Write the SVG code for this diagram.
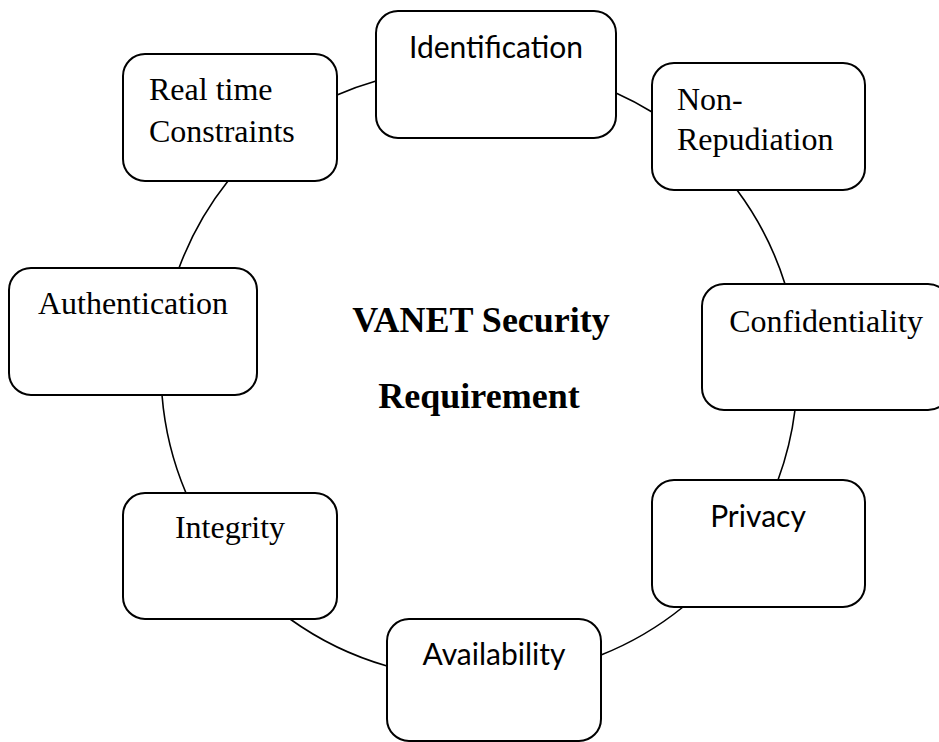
<svg xmlns="http://www.w3.org/2000/svg" width="939" height="742" viewBox="0 0 939 742">
  <style>
    .box { fill: #ffffff; stroke: #000000; stroke-width: 2; }
    .link { fill: none; stroke: #000000; stroke-width: 1.6; }
    .sans { font-family: "Lato", "Liberation Sans", sans-serif; font-size: 30px; fill: #000; }
    .serif { font-family: "Liberation Serif", "Times New Roman", serif; font-size: 32px; fill: #000; }
    .title { font-family: "Liberation Serif", "Times New Roman", serif; font-size: 36px; font-weight: bold; fill: #000; }
  </style>
  <rect width="939" height="742" fill="#ffffff"/>

  <!-- ring of arcs joining the requirement boxes -->
  <g id="connectors">
    <path class="link" d="M337,95 A315,315 0 0 1 376,81"/>
    <path class="link" d="M616,93 A315,315 0 0 1 652,112"/>
    <path class="link" d="M737,190 A315,315 0 0 1 785,284"/>
    <path class="link" d="M795,410 A315,315 0 0 1 778,480"/>
    <path class="link" d="M683,607 A315,315 0 0 1 601,655"/>
    <path class="link" d="M387,666 A315,315 0 0 1 290,619"/>
    <path class="link" d="M186,493 A315,315 0 0 1 162,395"/>
    <path class="link" d="M179,268 A315,315 0 0 1 228,181"/>
  </g>

  <g id="identification">
    <rect class="box" x="376" y="11" width="240" height="127" rx="22"/>
    <text class="sans" x="496" y="58" text-anchor="middle">Identification</text>
  </g>

  <g id="non-repudiation">
    <rect class="box" x="652" y="63" width="213" height="127" rx="22"/>
    <text class="serif" x="677" y="110">Non-</text>
    <text class="serif" x="677" y="150">Repudiation</text>
  </g>

  <g id="confidentiality">
    <rect class="box" x="702" y="284" width="248" height="126" rx="22"/>
    <text class="serif" x="826" y="332" text-anchor="middle">Confidentiality</text>
  </g>

  <g id="privacy">
    <rect class="box" x="652" y="480" width="213" height="127" rx="22"/>
    <text class="sans" x="758" y="527" text-anchor="middle">Privacy</text>
  </g>

  <g id="availability">
    <rect class="box" x="387" y="619" width="214" height="122" rx="22"/>
    <text class="sans" x="494" y="665" text-anchor="middle">Availability</text>
  </g>

  <g id="integrity">
    <rect class="box" x="123" y="493" width="214" height="126" rx="22"/>
    <text class="serif" x="230" y="538" text-anchor="middle">Integrity</text>
  </g>

  <g id="authentication">
    <rect class="box" x="9" y="268" width="248" height="127" rx="22"/>
    <text class="serif" x="133" y="314" text-anchor="middle">Authentication</text>
  </g>

  <g id="real-time-constraints">
    <rect class="box" x="123" y="54" width="214" height="127" rx="22"/>
    <text class="serif" x="149" y="100">Real time</text>
    <text class="serif" x="149" y="142">Constraints</text>
  </g>

  <g id="title">
    <text class="title" x="481" y="332" text-anchor="middle">VANET Security</text>
    <text class="title" x="479" y="408" text-anchor="middle">Requirement</text>
  </g>
</svg>
